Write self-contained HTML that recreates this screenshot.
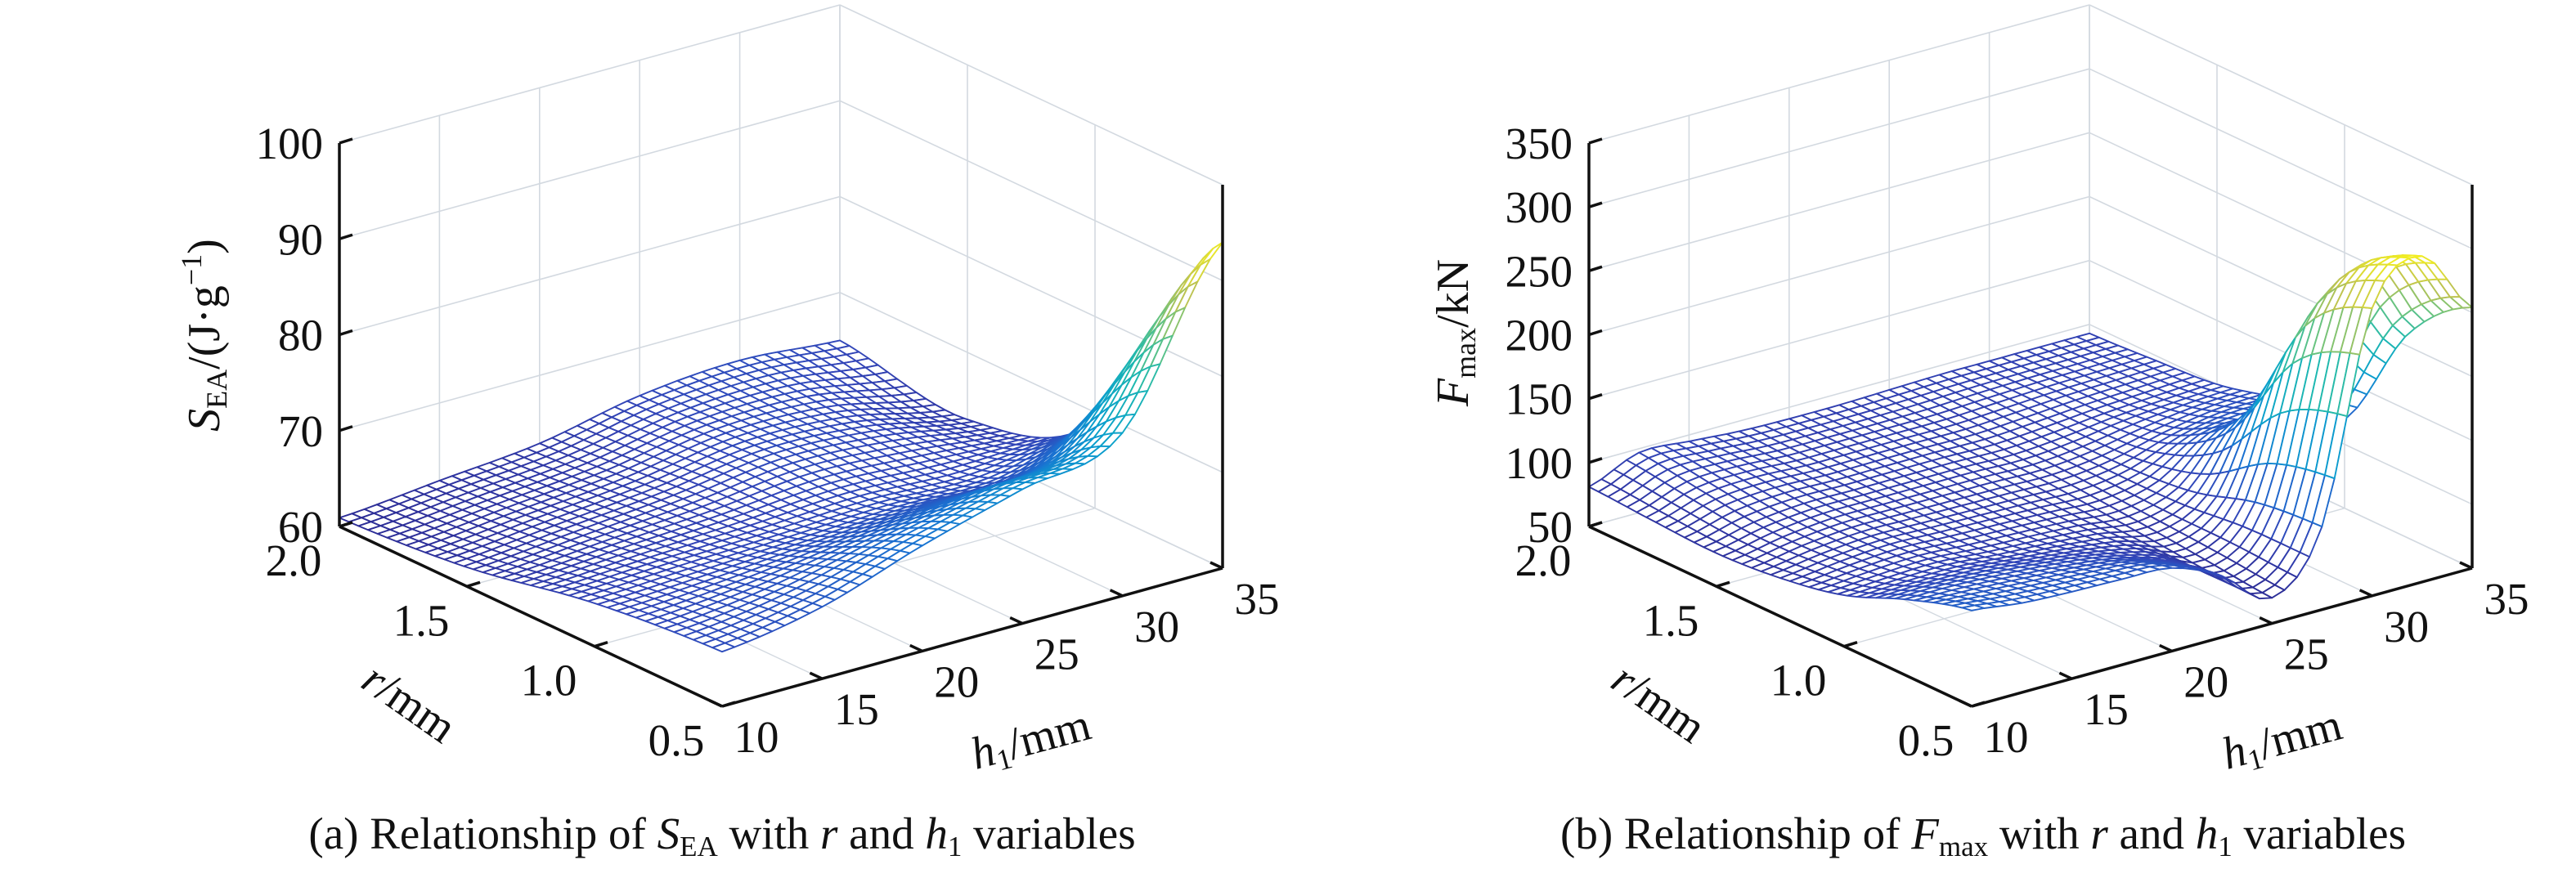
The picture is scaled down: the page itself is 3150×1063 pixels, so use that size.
<!DOCTYPE html>
<html><head><meta charset="utf-8">
<style>
html,body{margin:0;padding:0;background:#fff;}
svg{display:block;}
text{font-family:"Liberation Serif",serif;fill:#111;}
</style></head>
<body>
<svg id="fig" width="3150" height="1063" viewBox="0 0 3150 1063" xmlns="http://www.w3.org/2000/svg">
<rect width="3150" height="1063" fill="#fff"/>
<g id="chartA"></g>
<g id="chartB"></g>
<text x="883" y="1038" font-size="55" text-anchor="middle">(a) Relationship of <tspan font-style="italic">S</tspan><tspan font-size="35" dy="9">EA</tspan><tspan dy="-9"> with </tspan><tspan font-style="italic">r</tspan> and <tspan font-style="italic">h</tspan><tspan font-size="35" dy="9">1</tspan><tspan dy="-9"> variables</tspan></text>
<text x="2425" y="1038" font-size="55" text-anchor="middle">(b) Relationship of <tspan font-style="italic">F</tspan><tspan font-size="35" dy="9">max</tspan><tspan dy="-9"> with </tspan><tspan font-style="italic">r</tspan> and <tspan font-style="italic">h</tspan><tspan font-size="35" dy="9">1</tspan><tspan dy="-9"> variables</tspan></text>
</svg>
<script>
// ---- Chart (a) data: S_EA ----
const seaH = [10, 15, 20, 25, 30, 35];
const seaR = [2.0, 1.5, 1.0, 0.5];
const seaZ0 = [60.9, 61.9, 62.9, 65.0, 65.8, 65.0];
const seaZ1 = [62.0, 63.0, 64.0, 65.5, 65.0, 63.0];
const seaZ2 = [64.5, 65.0, 65.5, 66.0, 66.0, 69.0];
const seaZ3 = [65.7, 67.5, 71.0, 74.0, 77.0, 94.0];
const seaZTicks = [60, 70, 80, 90, 100];
// ---- Chart (b) data: F_max ----
const fH = [10, 12.5, 15, 17.5, 20, 22.5, 25, 27.5, 30, 32.5, 35];
const fR = [2.0, 1.75, 1.5, 1.25, 1.0, 0.75, 0.5];
const fZ0 = [81, 97, 95, 92, 91, 91, 92, 93, 93, 93, 93];
const fZ1 = [78, 90, 92, 90, 90, 90, 90, 92, 94, 95, 96];
const fZ2 = [76, 84, 88, 88, 88, 88, 87, 90, 95, 98, 100];
const fZ3 = [80, 85, 88, 87, 86, 85, 84, 90, 105, 112, 112];
const fZ4 = [90, 92, 93, 90, 88, 85, 80, 95, 145, 140, 120];
const fZ5 = [110, 110, 108, 105, 100, 90, 75, 110, 240, 265, 210];
const fZ6 = [125, 120, 118, 117, 115, 98, 70, 115, 275, 305, 254];
const fZTicks = [50, 100, 150, 200, 250, 300, 350];
// shared axis ticks
const rTicks = [2.0, 1.5, 1.0, 0.5];
const rTickLabels = ["2.0", "1.5", "1.0", "0.5"];
const hTicks = [10, 15, 20, 25, 30, 35];

const NS = "http://www.w3.org/2000/svg";
function mk(tag, attrs, parent) {
  const e = document.createElementNS(NS, tag);
  for (const k in attrs) e.setAttribute(k, attrs[k]);
  parent.appendChild(e);
  return e;
}

function makeChart(g, ox, zmin, zmax, H, R, Z, zTicks) {
  const P = (h, r, z) => {
    const hn = (h - 10) / 25, rn = (r - 0.5) / 1.5, zn = (z - zmin) / (zmax - zmin);
    return [ox + hn * 612 + (1 - rn) * 468, 644 - hn * 169 + (1 - rn) * 220 - zn * 469];
  };
  const grid = "#d3d9e0";
  const line = (a, b, col, w, name) => {
    const l = mk("line", {x1: a[0], y1: a[1], x2: b[0], y2: b[1], stroke: col, "stroke-width": w}, g);
    
    
  };
  zTicks.forEach(z => {
    line(P(10, 2.0, z), P(35, 2.0, z), grid, 1.6, 'wall-gridline');
    line(P(35, 2.0, z), P(35, 0.5, z), grid, 1.6, 'wall-gridline');
  });
  hTicks.forEach(h => {
    line(P(h, 2.0, zmin), P(h, 2.0, zmax), grid, 1.6, 'wall-gridline');
    line(P(h, 2.0, zmin), P(h, 0.5, zmin), grid, 1.4, 'floor-gridline');
  });
  rTicks.forEach(r => {
    line(P(35, r, zmin), P(35, r, zmax), grid, 1.6, 'wall-gridline');
    line(P(10, r, zmin), P(35, r, zmin), grid, 1.4, 'floor-gridline');
  });

  const cr = (p0, p1, p2, p3, t) => 0.5 * ((2 * p1) + (-p0 + p2) * t + (2 * p0 - 5 * p1 + 4 * p2 - p3) * t * t + (-p0 + 3 * p1 - 3 * p2 + p3) * t * t * t);
  const idx = (arr, v) => {
    const n = arr.length;
    let f = (v - arr[0]) / (arr[n - 1] - arr[0]) * (n - 1);
    let i = Math.min(n - 2, Math.max(0, Math.floor(f)));
    return [i, f - i];
  };
  const cl = (i, n) => Math.max(0, Math.min(n - 1, i));
  const sample = (h, r) => {
    const [hi, ht] = idx(H, h), [ri, rt] = idx(R, r);
    const rowv = [];
    for (let k = -1; k <= 2; k++) {
      const row = Z[cl(ri + k, R.length)];
      const nh = H.length;
      rowv.push(cr(row[cl(hi - 1, nh)], row[hi], row[cl(hi + 1, nh)], row[cl(hi + 2, nh)], ht));
    }
    return cr(rowv[0], rowv[1], rowv[2], rowv[3], rt);
  };
  const N = 41;
  const pts = [], zs = [];
  let smin = 1e9, smax = -1e9;
  for (let j = 0; j < N; j++) {
    pts.push([]); zs.push([]);
    const r = 2.0 - 1.5 * j / (N - 1);
    for (let i = 0; i < N; i++) {
      const h = 10 + 25 * i / (N - 1);
      const z = sample(h, r);
      zs[j].push(z); pts[j].push(P(h, r, z));
      smin = Math.min(smin, z); smax = Math.max(smax, z);
    }
  }
  const stops = [[0, [45, 45, 150]], [0.12, [50, 70, 185]], [0.3, [25, 115, 210]], [0.45, [10, 160, 205]], [0.6, [30, 185, 175]], [0.72, [100, 195, 130]], [0.85, [190, 195, 80]], [1, [245, 240, 30]]];
  const cmap = t => {
    t = Math.max(0, Math.min(1, t));
    for (let k = 1; k < stops.length; k++) if (t <= stops[k][0]) {
      const a = stops[k - 1], b = stops[k], u = (t - a[0]) / (b[0] - a[0]);
      return "rgb(" + a[1].map((c, m) => Math.round(c + (b[1][m] - c) * u)).join(",") + ")";
    }
    return "rgb(245,240,30)";
  };
  const cells = [];
  for (let j = 0; j < N - 1; j++) for (let i = 0; i < N - 1; i++) {
    const zav = (zs[j][i] + zs[j][i + 1] + zs[j + 1][i] + zs[j + 1][i + 1]) / 4;
    const far = (i / (N - 1)) + (1 - j / (N - 1)) - 0.3 * (zav - smin) / (smax - smin);
    cells.push({i, j, zav, far});
  }
  cells.sort((a, b) => b.far - a.far);
  const mg = mk("g", {}, g);
  
  
  cells.forEach(c => {
    const {i, j} = c;
    const q = [pts[j][i], pts[j][i + 1], pts[j + 1][i + 1], pts[j + 1][i]];
    const p = mk("polygon", {points: q.map(v => v[0].toFixed(1) + "," + v[1].toFixed(1)).join(" "), fill: "#fff", stroke: cmap((c.zav - smin) / (smax - smin)), "stroke-width": 1.9, "stroke-linejoin": "round"}, mg);
    
    
  });

  const ax = "#111";
  line(P(10, 2.0, zmin), P(10, 2.0, zmax), ax, 3.5, 'z-axis');
  line(P(10, 2.0, zmin), P(10, 0.5, zmin), ax, 3.5, 'r-axis');
  line(P(10, 0.5, zmin), P(35, 0.5, zmin), ax, 3.5, 'h-axis');
  line(P(35, 0.5, zmin), P(35, 0.5, zmax), ax, 3.5, 'right-edge');
  zTicks.forEach(z => {
    const a = P(10, 2.0, z);
    line(a, [a[0] + 16, a[1] - 5], ax, 3.5, 'z-tick');
    const t = mk("text", {x: ox - 20, y: a[1] + 19, "font-size": 55, "text-anchor": "end"}, g);
    
    
    t.textContent = z;
  });
  rTicks.forEach((r, k) => {
    const a = P(10, r, zmin);
    line(a, [a[0] + 16, a[1] - 5], ax, 3.5, 'r-tick');
    const t = mk("text", {x: a[0] - 56, y: a[1] + 60, "font-size": 55, "text-anchor": "middle"}, g);
    
    
    t.textContent = rTickLabels[k];
  });
  hTicks.forEach(h => {
    const a = P(h, 0.5, zmin);
    line(a, [a[0] - 15, a[1] - 7], ax, 3.5, 'h-tick');
    const t = mk("text", {x: a[0] + 42, y: a[1] + 56, "font-size": 55, "text-anchor": "middle"}, g);
    
    
    t.textContent = h;
  });
  return P;
}

const A = document.getElementById("chartA");
makeChart(A, 415, 60, 100, seaH, seaR, [seaZ0, seaZ1, seaZ2, seaZ3], seaZTicks);
const B = document.getElementById("chartB");
makeChart(B, 1943, 50, 350, fH, fR, [fZ0, fZ1, fZ2, fZ3, fZ4, fZ5, fZ6], fZTicks);

function label(parent, x, y, rot, html, name) {
  const t = mk("text", {transform: "translate(" + x + "," + y + ") rotate(" + rot + ")", "font-size": 56, "text-anchor": "middle"}, parent);
  
  
  t.innerHTML = html;
}
label(A, 268, 410, -90, '<tspan font-style="italic">S</tspan><tspan font-size="36" dy="9">EA</tspan><tspan dy="-9">/(J·g</tspan><tspan font-size="36" dy="-22">−1</tspan><tspan dy="22">)</tspan>', 'z-axis-title');
label(A, 490, 875, 35, '<tspan font-style="italic">r</tspan>/mm', 'r-axis-title');
label(A, 1265, 922, -15, '<tspan font-style="italic">h</tspan><tspan font-size="36" dy="9">1</tspan><tspan dy="-9">/mm</tspan>', 'h-axis-title');
label(B, 1795, 407, -90, '<tspan font-style="italic">F</tspan><tspan font-size="36" dy="9">max</tspan><tspan dy="-9">/kN</tspan>', 'z-axis-title');
label(B, 2018, 875, 35, '<tspan font-style="italic">r</tspan>/mm', 'r-axis-title');
label(B, 2795, 922, -15, '<tspan font-style="italic">h</tspan><tspan font-size="36" dy="9">1</tspan><tspan dy="-9">/mm</tspan>', 'h-axis-title');
</script>
</body></html>
